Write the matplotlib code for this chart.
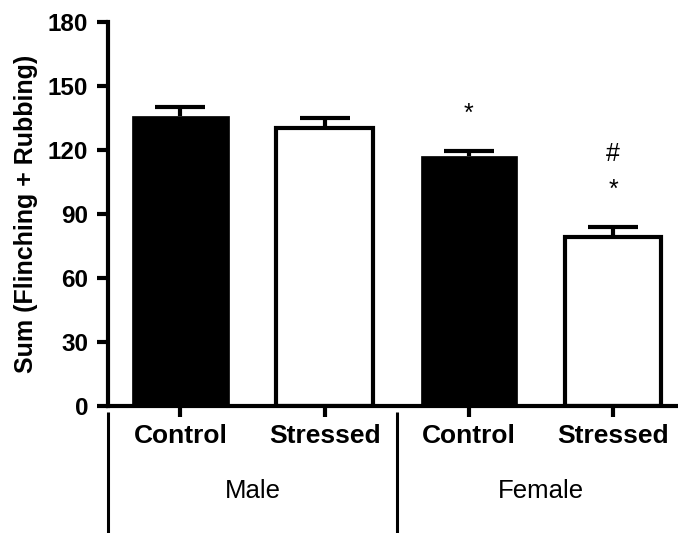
import numpy as np
import matplotlib
matplotlib.use('Agg')
import matplotlib.pyplot as plt

plt.rcParams['font.family'] = ['Liberation Sans', 'DejaVu Sans']

# Data
groups = ['Male', 'Female']
conditions = ['Control', 'Stressed', 'Control', 'Stressed']
means = [136, 130, 117, 79]
sems = [4, 5, 2.5, 5]
fills = ['black', 'white', 'black', 'white']
yticks = [0, 30, 60, 90, 120, 150, 180]

# significance marks: (bar index, y value, text)
marks = [(2, 137, '*'), (3, 118, '#'), (3, 101, '*')]

fig = plt.figure(figsize=(6.78, 5.33), dpi=100)
ax = fig.add_axes([0.1586, 0.2388, 0.8414, 0.7205])

x = np.arange(len(means))
for i in range(len(means)):
    lw = 3 if fills[i] == 'white' else 0.5
    ax.bar(x[i], means[i], width=0.67, color=fills[i], edgecolor='black',
           linewidth=lw, zorder=2)

eb = ax.errorbar(x, means, yerr=[np.zeros(len(sems)), sems], fmt='none',
                 ecolor='black', elinewidth=3, capsize=18, capthick=3, zorder=1)
# hide lower caps (they sit on the bar tops)
eb[1][0].set_visible(False)

for i, yv, s in marks:
    ax.text(x[i], yv, s, ha='center', va='center', fontsize=18)

ax.set_xlim(-0.506, 3.45)
ax.set_ylim(0, 180)
ax.set_yticks(yticks)
ax.tick_params(axis='y', labelsize=17.5, width=3, length=8, pad=6)
for lab in ax.get_yticklabels():
    lab.set_fontweight('bold')
ax.set_xticks(x)
ax.set_xticklabels([])
ax.tick_params(axis='x', width=3, length=8)

for sp in ['top', 'right']:
    ax.spines[sp].set_visible(False)
for sp in ['left', 'bottom']:
    ax.spines[sp].set_linewidth(3)
    ax.spines[sp].set_zorder(3)

ax.set_ylabel('Sum (Flinching + Rubbing)', fontsize=18, fontweight='bold', labelpad=7)

# category and group labels under the axis
trans = ax.get_xaxis_transform()
for i, c in enumerate(conditions):
    ax.text(x[i], -0.098, c, transform=trans, ha='center', va='baseline',
            fontsize=19, fontweight='bold')
for g, xc in zip(groups, [0.5, 2.5]):
    ax.text(xc, -0.241, g, transform=trans, ha='center', va='baseline', fontsize=18.5)

# group separator lines
for xs in [-0.506, 1.5]:
    ax.plot([xs, xs], [-0.016, -0.4], transform=trans, color='black',
            linewidth=2.2, clip_on=False, solid_capstyle='butt')

fig.savefig('out.png', dpi=100)
